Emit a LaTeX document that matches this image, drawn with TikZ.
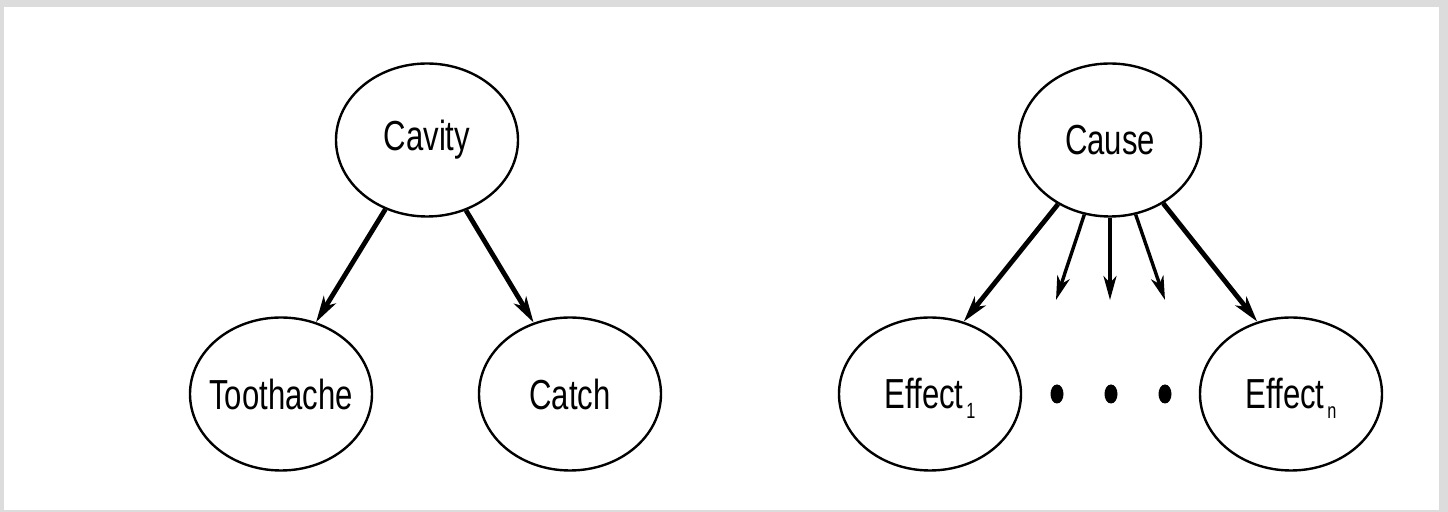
\documentclass[tikz,border=0pt]{standalone}
\usepackage{fontspec}
\setmainfont{Liberation Sans}
\usetikzlibrary{shapes.geometric,arrows.meta}
\definecolor{bggray}{HTML}{DCDCDC}
\newcommand{\lbl}[1]{\makebox[0pt]{\scalebox{0.74}[1]{#1}}}
\newcommand{\sbs}[1]{\hspace{2pt}\smash{\raisebox{-5pt}{\fontsize{11}{11}\selectfont #1}}}
\tikzset{
  bnode/.style={ellipse, draw, line width=1.2pt, minimum width=91pt, minimum height=76.5pt,
    inner sep=0pt, font=\fontsize{21}{21}\selectfont},
  bigarrow/.style={line width=2.4pt, -{Stealth[length=13pt,width=7pt,inset=3.5pt]}},
  smallarrow/.style={line width=1.7pt, -{Stealth[length=12pt,width=6.5pt,inset=3.5pt]}},
  dotblob/.style={ellipse, fill=black, minimum width=6.5pt, minimum height=9.5pt, inner sep=0pt}
}
\begin{document}
\begin{tikzpicture}[x=0.5pt,y=-0.5pt]
\fill[bggray] (0,0) rectangle (1448,512);
\fill[white] (4,7) rectangle (1439,510);
\useasboundingbox (0,0) rectangle (1448,512);

\node[bnode] (cavity) at (427,140) {\lbl{Cavity}};
\node[bnode] (tooth) at (281,394) {\lbl{Toothache}};
\node[bnode] (catch) at (570,394) {\lbl{Catch}};

\node[bnode] (cause) at (1110,140) {\lbl{Cause}};
\node[bnode] (e1) at (930,394) {\lbl{Effect\sbs{1}}};
\node[bnode] (en) at (1291,394) {\lbl{Effect\sbs{n}}};

\node[dotblob] (d1) at (1057,394) {};
\node[dotblob] (d2) at (1111,394) {};
\node[dotblob] (d3) at (1165,394) {};

\coordinate (s1) at (1056,300);
\coordinate (s2) at (1110,300);
\coordinate (s3) at (1165,300);

\draw[bigarrow] (cavity.239) -- (tooth.64);
\draw[bigarrow] (cavity.299) -- (catch.117);
\draw[bigarrow] (cause.231) -- (e1.65);
\draw[bigarrow] (cause.310) -- (en.115);
\draw[smallarrow] (cause.251.6) -- (s1);
\draw[smallarrow] (cause.270) -- (s2);
\draw[smallarrow] (cause.289.8) -- (s3);
\end{tikzpicture}
\end{document}
